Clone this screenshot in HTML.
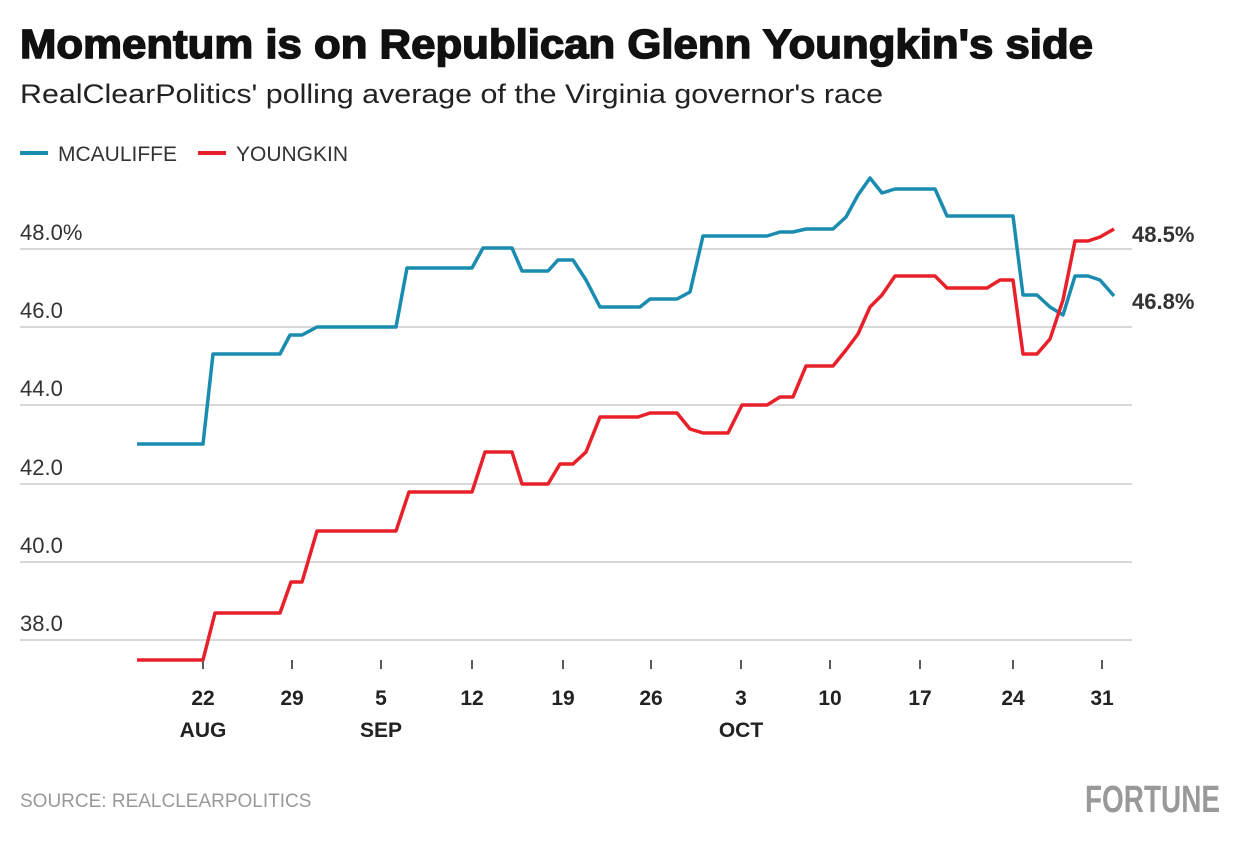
<!DOCTYPE html>
<html><head><meta charset="utf-8"><style>
body{margin:0;background:#fff;width:1240px;height:840px;overflow:hidden;font-family:"Liberation Sans",sans-serif}
</style></head><body>
<svg width="1240" height="840" xmlns="http://www.w3.org/2000/svg" font-family="Liberation Sans, sans-serif">
<text x="20" y="58" font-size="41" font-weight="900" fill="#111" stroke="#111" stroke-width="1.5" textLength="1073" lengthAdjust="spacingAndGlyphs">Momentum is on Republican Glenn Youngkin's side</text>
<text x="20" y="103" font-size="27" fill="#222" textLength="863" lengthAdjust="spacingAndGlyphs">RealClearPolitics' polling average of the Virginia governor's race</text>
<line x1="20" y1="153" x2="48" y2="153" stroke="#1a8cb0" stroke-width="4"/>
<text x="58" y="161" font-size="21" fill="#333">MCAULIFFE</text>
<line x1="198" y1="153" x2="226" y2="153" stroke="#e8202a" stroke-width="4"/>
<text x="236" y="161" font-size="21" fill="#333">YOUNGKIN</text>
<g stroke="#ccc" stroke-width="1.5">
<line x1="20" y1="249" x2="1132" y2="249"/><line x1="20" y1="327" x2="1132" y2="327"/>
<line x1="20" y1="405" x2="1132" y2="405"/><line x1="20" y1="484" x2="1132" y2="484"/>
<line x1="20" y1="562" x2="1132" y2="562"/><line x1="20" y1="640" x2="1132" y2="640"/>
</g>
<g font-size="22" fill="#333">
<text x="20" y="240">48.0%</text><text x="20" y="318">46.0</text><text x="20" y="396">44.0</text>
<text x="20" y="475">42.0</text><text x="20" y="553">40.0</text><text x="20" y="631">38.0</text>
</g>
<g stroke="#222" stroke-width="1.5">
<line x1="203" y1="660" x2="203" y2="669"/><line x1="292" y1="660" x2="292" y2="669"/><line x1="381" y1="660" x2="381" y2="669"/>
<line x1="472" y1="660" x2="472" y2="669"/><line x1="563" y1="660" x2="563" y2="669"/><line x1="651" y1="660" x2="651" y2="669"/>
<line x1="741" y1="660" x2="741" y2="669"/><line x1="830" y1="660" x2="830" y2="669"/><line x1="920" y1="660" x2="920" y2="669"/>
<line x1="1013" y1="660" x2="1013" y2="669"/><line x1="1102" y1="660" x2="1102" y2="669"/>
</g>
<g font-size="21" fill="#222" text-anchor="middle" font-weight="bold">
<text x="203" y="705">22</text><text x="292" y="705">29</text><text x="381" y="705">5</text><text x="472" y="705">12</text>
<text x="563" y="705">19</text><text x="651" y="705">26</text><text x="741" y="705">3</text><text x="830" y="705">10</text>
<text x="920" y="705">17</text><text x="1013" y="705">24</text><text x="1102" y="705">31</text>
<text x="203" y="737">AUG</text><text x="381" y="737">SEP</text><text x="741" y="737">OCT</text>
</g>
<polyline fill="none" stroke="#1a8cb0" stroke-width="3.5" stroke-linejoin="round" points="137,444 203,444 213,354 280,354 290,335 302,335 317,327 396,327 407,268 472,268 483,248 512,248 522,271 548,271 558,260 573,260 586,280 600,307 640,307 650,299 677,299 690,292 703,236 767,236 780,232 793,232 806,229 833,229 846,217 858,195 870,178 882,193 895,189 935,189 947,216 1013,216 1023,295 1037,295 1050,307 1063,315 1075,276 1088,276 1100,280 1114,296"/>
<polyline fill="none" stroke="#e8202a" stroke-width="3.5" stroke-linejoin="round" points="137,660 203,660 215,613 280,613 291,582 302,582 317,531 396,531 409,492 472,492 485,452 512,452 522,484 548,484 560,464 573,464 586,452 600,417 638,417 650,413 677,413 690,429 703,433 728,433 742,405 767,405 780,397 793,397 806,366 833,366 846,350 858,334 870,307 882,295 895,276 935,276 947,288 987,288 1000,280 1013,280 1023,354 1037,354 1050,339 1063,300 1075,241 1088,241 1100,237 1114,229"/>
<text x="1132" y="242" font-size="22" font-weight="bold" fill="#333">48.5%</text>
<text x="1132" y="309" font-size="22" font-weight="bold" fill="#333">46.8%</text>
<text x="20" y="807" font-size="19" fill="#999">SOURCE: REALCLEARPOLITICS</text>
<text x="1220" y="812" font-size="38" font-weight="bold" fill="#999" text-anchor="end" textLength="135" lengthAdjust="spacingAndGlyphs">FORTUNE</text>
</svg>
</body></html>
